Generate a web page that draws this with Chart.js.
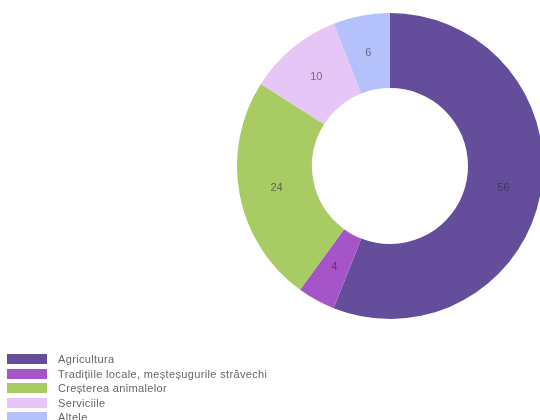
<!DOCTYPE html>
<html>
<head>
<meta charset="utf-8">
<script src="https://cdn.jsdelivr.net/npm/chart.js@4.4.0/dist/chart.umd.min.js"></script>
<style>
    html, body { margin: 0; padding: 0; background: #fff; overflow: hidden; width: 540px; height: 420px; }
    #chartBox { position: absolute; left: 0; top: 0; width: 546px; height: 420px; }
    #legend { position: absolute; left: 7px; top: 354px; font-family: "Liberation Sans", Arial, sans-serif; font-size: 11px; letter-spacing: 0.35px; color: #666; }
    .row { height: 14.5px; display: flex; align-items: flex-start; }
    .box { width: 40px; height: 10px; margin-right: 11px; }
    .txt { line-height: 10px; margin-top: 0px; }
</style>
</head>
<body>
<div id="chartBox"><canvas id="pieChart"></canvas></div>
<div id="legend"></div>
<script>
const categories = ["Agricultura", "Tradițiile locale, meșteșugurile străvechi", "Creșterea animalelor", "Serviciile", "Altele"];
const values = [56, 4, 24, 10, 6];
const colors = ["#644d9b", "#a655c8", "#a8cb63", "#e5c6f6", "#b5c1fb"];

// numbers in the middle of each slice
const sliceLabels = {
    id: "sliceLabels",
    afterDatasetsDraw(chart) {
        const ctx = chart.ctx;
        const meta = chart.getDatasetMeta(0);
        ctx.save();
        ctx.font = "11px 'Liberation Sans', Arial, sans-serif";
        ctx.textAlign = "center";
        ctx.textBaseline = "middle";
        ctx.fillStyle = "rgba(40,40,40,0.6)";
        meta.data.forEach((arc, i) => {
            const p = arc.tooltipPosition();
            ctx.fillText(values[i], p.x, p.y);
        });
        ctx.restore();
    }
};

new Chart(document.getElementById("pieChart"), {
    type: "doughnut",
    data: {
        labels: categories,
        datasets: [{
            data: values,
            backgroundColor: colors,
            borderWidth: 0
        }]
    },
    options: {
        responsive: true,
        maintainAspectRatio: false,
        animation: false,
        cutout: "51%",
        layout: { padding: { left: 237, right: 3, top: 13, bottom: 101 } },
        plugins: {
            legend: { display: false },
            tooltip: { enabled: false }
        }
    },
    plugins: [sliceLabels]
});

let legendHtml = "";
categories.forEach((c, i) => {
    legendHtml += '<div class="row"><div class="box" style="background:' + colors[i] + '"></div><div class="txt">' + c + '</div></div>';
});
document.getElementById("legend").innerHTML = legendHtml;
</script>
</body>
</html>
